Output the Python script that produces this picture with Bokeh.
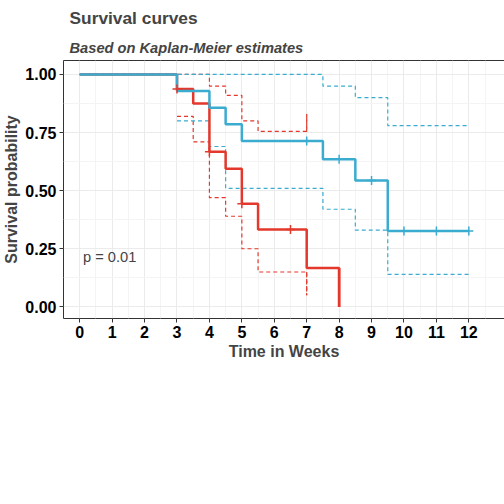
from bokeh.plotting import figure
from bokeh.layouts import column
from bokeh.models import Range1d, Legend, LegendItem, Title, Label, FixedTicker
from bokeh.embed import file_html
from bokeh.resources import INLINE

RED = "#e3382b"
BLUE = "#3aacd0"
FONT = "Liberation Sans"

# step curves: (time, survival) start points
t0 = [0, 3, 3.5, 4, 4.5, 5, 5.5, 7, 8]
s0 = [1, 0.9375, 0.875, 0.667, 0.594, 0.444, 0.333, 0.167, 0.0]
lo0_t = [3, 3.5, 4, 4.5, 5, 5.5, 7]
lo0 = [0.82, 0.71, 0.47, 0.39, 0.25, 0.15, 0.05]
hi0_t = [0, 4, 4.5, 5, 5.5, 7]
hi0 = [1, 0.95, 0.91, 0.80, 0.755, 0.83]
cens0_t = [3, 4, 5, 6.5]
cens0_s = [0.9375, 0.667, 0.444, 0.333]

t1 = [0, 3, 4, 4.5, 5, 7.5, 8.5, 9.5, 12]
s1 = [1, 0.929, 0.857, 0.786, 0.714, 0.635, 0.544, 0.326, 0.326]
lo1_t = [3, 4, 4.5, 7.5, 8.5, 9.5, 12]
lo1 = [0.80, 0.69, 0.51, 0.42, 0.33, 0.14, 0.14]
hi1_t = [0, 7.5, 8.5, 9.5, 12]
hi1 = [1, 0.95, 0.90, 0.78, 0.78]
cens1_t = [7, 8, 9, 10, 11, 12]
cens1_s = [0.714, 0.635, 0.544, 0.326, 0.326, 0.326]

weeks = list(range(13))
risk0 = [16, 16, 16, 16, 13, 8, 3, 2, 1, 0, 0, 0, 0]
risk1 = [14, 14, 14, 14, 13, 11, 10, 10, 8, 6, 3, 2, 1]


def style(p):
    p.background_fill_color = "white"
    p.outline_line_color = "#333333"
    p.grid.grid_line_color = "#ebebeb"
    p.xgrid.minor_grid_line_color = "#f4f4f4"
    p.ygrid.minor_grid_line_color = "#f4f4f4"
    for ax in p.axis:
        ax.major_label_text_font = FONT
        ax.major_label_text_font_style = "bold"
        ax.major_label_text_font_size = "12pt"
        ax.major_label_text_color = "black"
        ax.axis_label_text_font = FONT
        ax.axis_label_text_font_style = "bold"
        ax.axis_label_text_font_size = "12pt"
        ax.axis_line_color = None
        ax.minor_tick_line_color = None
        ax.major_tick_line_color = "#333333"
        ax.major_tick_in = 0
        ax.major_tick_out = 4
        ax.axis_label_standoff = 2
        ax.major_label_standoff = 3


p = figure(frame_width=441, frame_height=258, x_range=Range1d(-0.5, 13.1), y_range=Range1d(-0.05, 1.06),
           output_backend="svg", toolbar_location=None, min_border_left=4, min_border_right=4,
           min_border_top=2, min_border_bottom=4)
p.add_layout(Title(text="Based on Kaplan-Meier estimates", text_font=FONT, text_font_style="bold italic",
                   text_font_size="11pt", offset=6), "above")
p.add_layout(Title(text="Survival curves", text_font=FONT, text_font_style="bold",
                   text_font_size="13pt", offset=6), "above")
p.xaxis.ticker = FixedTicker(ticks=weeks, minor_ticks=[x + 0.5 for x in range(-1, 13)])
p.yaxis.ticker = FixedTicker(ticks=[0, 0.25, 0.5, 0.75, 1.0], minor_ticks=[0.125, 0.375, 0.625, 0.875])
p.yaxis.major_label_overrides = {0: "0.00", 0.25: "0.25", 0.5: "0.50", 0.75: "0.75", 1.0: "1.00"}
p.xaxis.axis_label = "Time in Weeks"
p.yaxis.axis_label = "Survival probability"
style(p)

for tt, ss in [(lo0_t, lo0), (hi0_t, hi0)]:
    p.step(tt, ss, mode="after", color=RED, line_dash="4 3", line_width=1.2)
for tt, ss in [(lo1_t, lo1), (hi1_t, hi1)]:
    p.step(tt, ss, mode="after", color=BLUE, line_dash="4 3", line_width=1.2)
p.segment([7, 7], [0.15, 0.755], [7, 7], [0.05, 0.83], color=RED, line_dash="4 3", line_width=1.2)
p.step(t0, s0, mode="after", color=RED, line_width=2.5)
p.segment([8], [0.167], [8], [0.0], color=RED, line_width=2.5)
p.step(t1, s1, mode="after", color=BLUE, line_width=2.5)
p.scatter(cens0_t, cens0_s, marker="cross", size=9, color=RED, line_width=1.5)
p.scatter(cens1_t, cens1_s, marker="cross", size=9, color=BLUE, line_width=1.5)
p.add_layout(Label(x=0.1, y=0.18, text="p = 0.01", text_font=FONT, text_font_size="11pt"))

q = figure(frame_width=441, frame_height=60, x_range=Range1d(-0.5, 13.1), y_range=Range1d(0.4, 2.6),
           output_backend="svg", toolbar_location=None, min_border_left=4, min_border_right=4,
           min_border_top=2, min_border_bottom=2)
q.add_layout(Title(text="Number at risk", text_font=FONT, text_font_style="bold",
                   text_font_size="12pt", offset=2), "above")
# legend glyphs (drawn off-range, only for legend)
l0 = q.line([-5, -4], [0, 0], color=RED, line_width=2.5)
l1 = q.line([-5, -4], [0, 0], color=BLUE, line_width=2.5)
leg = Legend(items=[LegendItem(label="Drug = 0", renderers=[l0]),
                    LegendItem(label="Drug = 1", renderers=[l1])],
             orientation="horizontal", location="center", border_line_color=None,
             label_text_font=FONT, label_text_font_style="bold", label_text_font_size="10pt",
             glyph_width=20, spacing=6, margin=4)
q.add_layout(leg, "above")
q.xaxis.ticker = FixedTicker(ticks=weeks, minor_ticks=[x + 0.5 for x in range(-1, 13)])
q.yaxis.ticker = FixedTicker(ticks=[1, 2], minor_ticks=[])
q.yaxis.major_label_overrides = {1: "      ", 2: "      "}
q.xaxis.axis_label = "Time in Weeks"
q.yaxis.axis_label = "Strata"
style(q)
q.ygrid.minor_grid_line_color = None
q.text(weeks, [2] * 13, text=[str(v) for v in risk0], text_color=RED, text_align="center",
       text_baseline="middle", text_font_size="10pt")
q.text(weeks, [1] * 13, text=[str(v) for v in risk1], text_color=BLUE, text_align="center",
       text_baseline="middle", text_font_size="10pt")
q.add_layout(Label(x=-0.75, y=2, text="▬", text_color=RED, text_align="center", text_baseline="middle",
                   text_font_size="14pt"))
q.add_layout(Label(x=-0.75, y=1, text="▬", text_color=BLUE, text_align="center", text_baseline="middle",
                   text_font_size="14pt"))

lay = column(p, q, spacing=0)
open("out.html", "w").write(file_html(lay, INLINE))
